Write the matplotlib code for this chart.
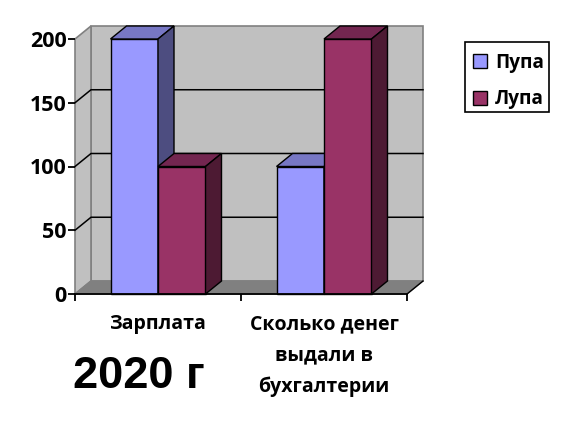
import matplotlib
matplotlib.use("Agg")
import matplotlib.pyplot as plt
from matplotlib.patches import Polygon, Patch, Rectangle

categories = ["Зарплата", "Сколько денег\nвыдали в\nбухгалтерии"]
series_names = ["Пупа", "Лупа"]
pupa = [200, 100]
lupa = [100, 200]
yticks = [0, 50, 100, 150, 200]
stamp = "2020 г"

W, H = 578, 422
fig = plt.figure(figsize=(W / 100, H / 100), dpi=100)
L, R, T, B = 75, 407, 39, 294
ax = fig.add_axes([L / W, 1 - B / H, (R - L) / W, (B - T) / H])
ax.set_xlim(0, 2)
ax.set_ylim(0, 200)
ax.patch.set_visible(False)
for s in ax.spines.values():
    s.set_visible(False)

DX = 16 / (R - L) * 2
DY = 13 / (B - T) * 200
ymax = 200
LW = 1.0


def poly(pts, fc, ec="black", lw=LW, z=2):
    ax.add_patch(Polygon(pts, closed=True, facecolor=fc, edgecolor=ec, linewidth=lw,
                         zorder=z, clip_on=False, joinstyle="miter"))


# walls and floor
poly([(DX, DY), (2 + DX, DY), (2 + DX, ymax + DY), (DX, ymax + DY)], "#C0C0C0", "#808080", 1.2, 1)
poly([(0, 0), (DX, DY), (DX, ymax + DY), (0, ymax)], "#C0C0C0", "#808080", 1.2, 1)
poly([(0, 0), (2, 0), (2 + DX, DY), (DX, DY)], "#808080", "#808080", 1.0, 1)
ax.plot([2, 2 + DX], [0, DY], color="black", lw=1.0, zorder=1.6, clip_on=False)

# gridlines
for v in yticks[1:-1]:
    ax.plot([0, DX, 2 + DX], [v, v + DY, v + DY], color="black", lw=1.1, zorder=1.5, clip_on=False)

# bars
BW = 47.5 / (R - L) * 2


def bar3d(x, v, front, top, side):
    poly([(x, 0), (x + BW, 0), (x + BW, v), (x, v)], front, z=3 + x)
    poly([(x, v), (x + BW, v), (x + BW + DX, v + DY), (x + DX, v + DY)], top, z=3 + x)
    poly([(x + BW, 0), (x + BW + DX, DY), (x + BW + DX, v + DY), (x + BW, v)], side, z=3 + x)


for i in range(2):
    c = i + 0.5
    bar3d(c - BW, pupa[i], "#9999FF", "#7777C4", "#4D4D80")
    bar3d(c, lupa[i], "#993366", "#732650", "#4D1A33")

# axes and ticks
ax.plot([0, 2], [0, 0], color="black", lw=1.3, zorder=20, clip_on=False)
ax.set_yticks(yticks)
ax.set_yticklabels([str(v) for v in yticks], fontsize=15.5, fontweight="bold", family="Open Sans")
ax.tick_params(axis="y", length=5, width=1.3, pad=1)
ax.set_xticks([0, 1, 2])
ax.set_xticklabels([])
ax.tick_params(axis="x", length=5, width=1.3)
for i, label in enumerate(categories):
    ax.annotate(label, (i + 0.5, 0), xycoords=("data", "data"), xytext=(0, -14.5),
                textcoords="offset points", ha="center", va="top", fontsize=14,
                fontweight="bold", family="Open Sans", linespacing=1.72, annotation_clip=False)

# legend: frame drawn separately so the rows can sit as low in it as they do in the reference
fig.add_artist(Rectangle((465 / W, 1 - 112 / H), 84 / W, 70 / H, transform=fig.transFigure,
                         facecolor="white", edgecolor="black", linewidth=1.2))
handles = [Patch(facecolor="#9999FF", edgecolor="black", lw=1.0),
           Patch(facecolor="#993366", edgecolor="black", lw=1.0)]
leg = fig.legend(handles, series_names, loc="upper left", bbox_to_anchor=(465 / W, 1 - 45 / H),
                 bbox_transform=fig.transFigure, borderaxespad=0, frameon=False,
                 handlelength=0.78, handleheight=0.78, handletextpad=0.4, labelspacing=0.88,
                 borderpad=0.4, prop={"family": "Open Sans", "weight": "bold", "size": 13.7})

fig.text(73 / W, 1 - 388 / H, stamp, fontsize=32.5, fontweight="bold", family="Liberation Sans",
         ha="left", va="baseline")

fig.savefig("out.png", dpi=100)
